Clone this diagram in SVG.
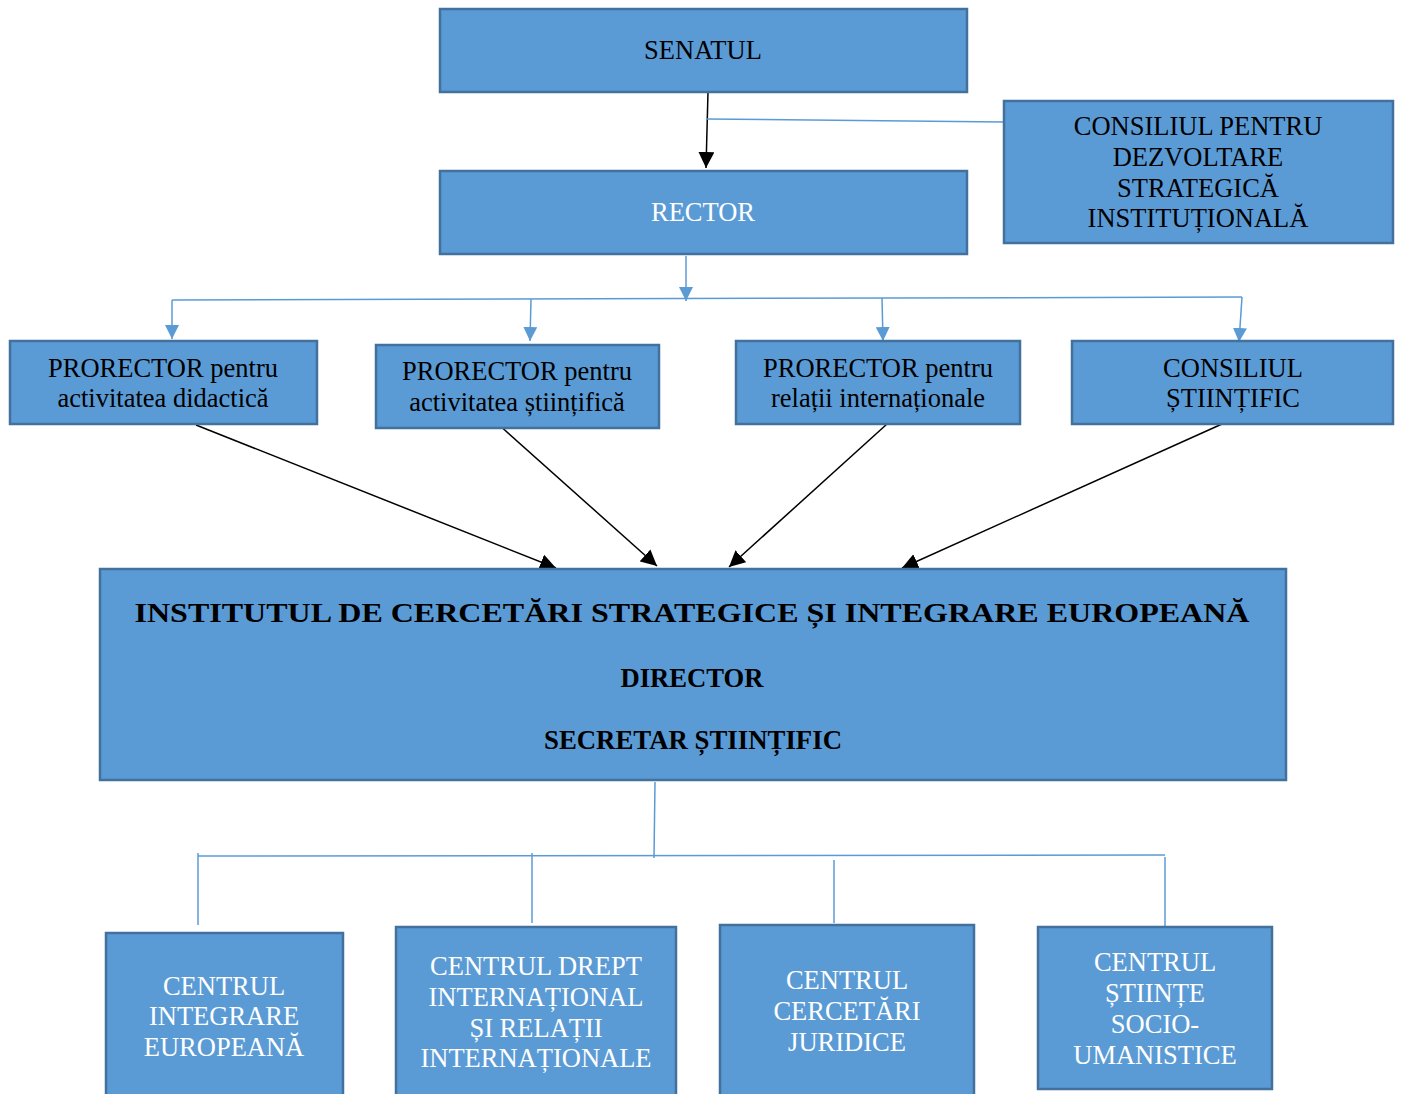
<svg xmlns="http://www.w3.org/2000/svg" width="1402" height="1094" viewBox="0 0 1402 1094">
<style>
.box{fill:#5B9BD5;stroke:#41719C;stroke-width:2.5}
.t{font-family:"Liberation Serif","Times New Roman",serif;font-size:26.5px;text-anchor:middle;dominant-baseline:central;fill:#000}
.w{fill:#fff}
.b{font-weight:bold}
.blk{stroke:#000;stroke-width:1.5;fill:none}
.blu{stroke:#5B9BD5;stroke-width:1.5;fill:none}
</style>
<defs>
<marker id="ab" viewBox="0 0 10 10" refX="10" refY="5" markerWidth="16" markerHeight="16" markerUnits="userSpaceOnUse" orient="auto"><path d="M0,0 L10,5 L0,10 z" fill="#000"/></marker>
<marker id="au" viewBox="0 0 10 10" refX="10" refY="5" markerWidth="14" markerHeight="14" markerUnits="userSpaceOnUse" orient="auto"><path d="M0,0 L10,5 L0,10 z" fill="#5B9BD5"/></marker>
</defs>
<g id="connectors">
<line class="blk" x1="708" y1="92" x2="706" y2="168" marker-end="url(#ab)"/>
<line class="blu" x1="706" y1="119" x2="1004" y2="122"/>
<line class="blu" x1="686" y1="256" x2="686" y2="301" marker-end="url(#au)"/>
<line class="blu" x1="172" y1="300" x2="1242" y2="297"/>
<line class="blu" x1="172" y1="300" x2="172" y2="339" marker-end="url(#au)"/>
<line class="blu" x1="531" y1="299" x2="530" y2="341" marker-end="url(#au)"/>
<line class="blu" x1="882" y1="298" x2="883" y2="341" marker-end="url(#au)"/>
<line class="blu" x1="1242" y1="297" x2="1239" y2="342" marker-end="url(#au)"/>
<line class="blk" x1="196" y1="425" x2="556" y2="568" marker-end="url(#ab)"/>
<line class="blk" x1="498" y1="424" x2="657" y2="566" marker-end="url(#ab)"/>
<line class="blk" x1="887" y1="424" x2="729" y2="567" marker-end="url(#ab)"/>
<line class="blk" x1="1222" y1="424" x2="902" y2="568" marker-end="url(#ab)"/>
<line class="blu" x1="655" y1="782" x2="654" y2="858"/>
<line class="blu" x1="198" y1="856" x2="1165" y2="855"/>
<line class="blu" x1="198" y1="853" x2="198" y2="925"/>
<line class="blu" x1="532" y1="853" x2="532" y2="923"/>
<line class="blu" x1="834" y1="860" x2="834" y2="923"/>
<line class="blu" x1="1165" y1="857" x2="1165" y2="926"/>
</g>
<g id="senatul"><rect class="box" x="440" y="9" width="527" height="83"/><text class="t" x="703" y="50">SENATUL</text></g>
<g id="rector"><rect class="box" x="440" y="171" width="527" height="83"/><text class="t w" x="703" y="212">RECTOR</text></g>
<g id="consiliul-dezvoltare"><rect class="box" x="1004" y="101" width="389" height="142"/>
<text class="t" x="1198" y="126">CONSILIUL PENTRU</text><text class="t" x="1198" y="157">DEZVOLTARE</text><text class="t" x="1198" y="188">STRATEGICĂ</text><text class="t" x="1198" y="218">INSTITUȚIONALĂ</text></g>
<g id="prorector-didactica"><rect class="box" x="10" y="341" width="307" height="83"/>
<text class="t" x="163" y="368">PRORECTOR pentru</text><text class="t" x="163" y="398">activitatea didactică</text></g>
<g id="prorector-stiintifica"><rect class="box" x="376" y="345" width="283" height="83"/>
<text class="t" x="517" y="371">PRORECTOR pentru</text><text class="t" x="517" y="402">activitatea științifică</text></g>
<g id="prorector-relatii"><rect class="box" x="736" y="341" width="284" height="83"/>
<text class="t" x="878" y="368">PRORECTOR pentru</text><text class="t" x="878" y="398">relații internaționale</text></g>
<g id="consiliul-stiintific"><rect class="box" x="1072" y="341" width="321" height="83"/>
<text class="t" x="1233" y="368">CONSILIUL</text><text class="t" x="1233" y="398">ȘTIINȚIFIC</text></g>
<g id="institutul"><rect class="box" x="100" y="569" width="1186" height="211"/>
<text class="t b" x="692" y="613" font-size="30" textLength="1115" lengthAdjust="spacingAndGlyphs">INSTITUTUL DE CERCETĂRI STRATEGICE ȘI INTEGRARE EUROPEANĂ</text>
<text class="t b" x="692" y="678" textLength="143" lengthAdjust="spacingAndGlyphs">DIRECTOR</text>
<text class="t b" x="693" y="740" textLength="298" lengthAdjust="spacingAndGlyphs">SECRETAR ȘTIINȚIFIC</text></g>
<g id="centrul-integrare"><rect class="box" x="106" y="933" width="237" height="175"/>
<text class="t w" x="224" y="986">CENTRUL</text><text class="t w" x="224" y="1016">INTEGRARE</text><text class="t w" x="224" y="1047">EUROPEANĂ</text></g>
<g id="centrul-drept"><rect class="box" x="396" y="927" width="280" height="181"/>
<text class="t w" x="536" y="966">CENTRUL DREPT</text><text class="t w" x="536" y="997">INTERNAȚIONAL</text><text class="t w" x="536" y="1028">ȘI RELAȚII</text><text class="t w" x="536" y="1058">INTERNAȚIONALE</text></g>
<g id="centrul-cercetari"><rect class="box" x="720" y="925" width="254" height="183"/>
<text class="t w" x="847" y="980">CENTRUL</text><text class="t w" x="847" y="1011">CERCETĂRI</text><text class="t w" x="847" y="1042">JURIDICE</text></g>
<g id="centrul-stiinte"><rect class="box" x="1038" y="927" width="234" height="162"/>
<text class="t w" x="1155" y="962">CENTRUL</text><text class="t w" x="1155" y="993">ȘTIINȚE</text><text class="t w" x="1155" y="1024">SOCIO-</text><text class="t w" x="1155" y="1055">UMANISTICE</text></g>
</svg>
